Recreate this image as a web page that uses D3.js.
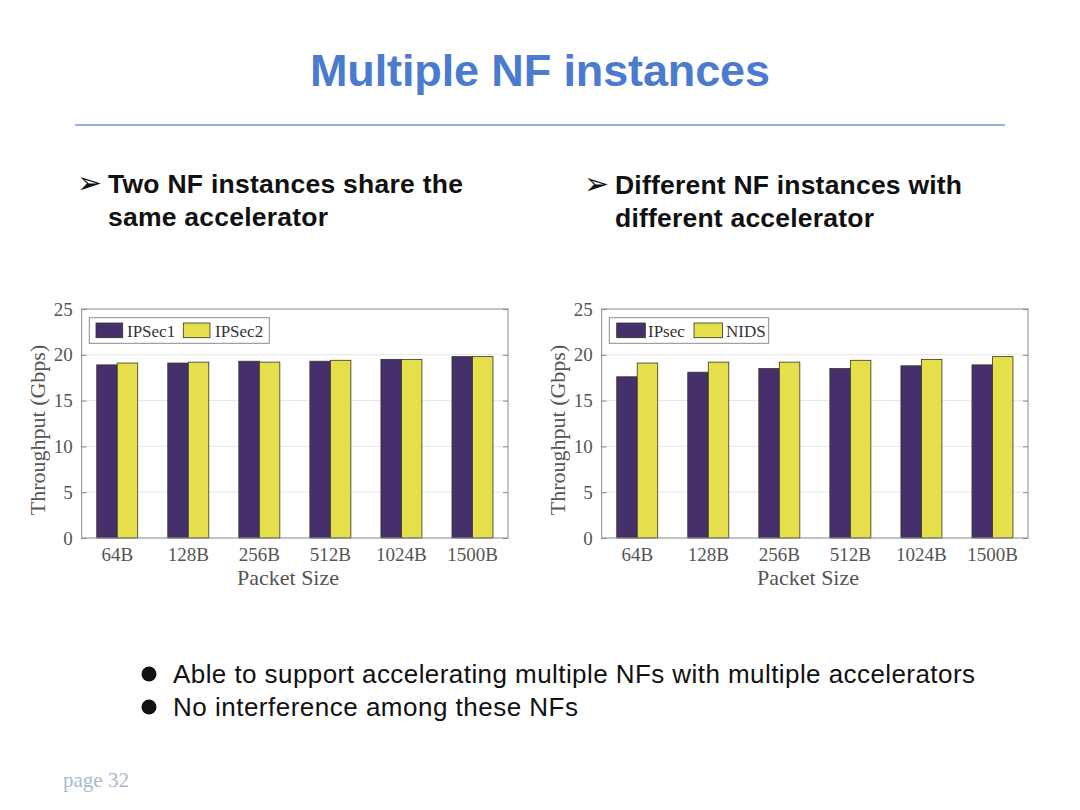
<!DOCTYPE html>
<html><head><meta charset="utf-8">
<script src="https://cdn.jsdelivr.net/npm/d3@7"></script>
<style>body{margin:0;background:#fff}svg{display:block}</style>
</head><body>
<svg id="s" width="1080" height="810"></svg>
<script>
const categories = ["64B","128B","256B","512B","1024B","1500B"];
const leftSeriesNames = ["IPSec1","IPSec2"];
const ipsec1 = [18.9,19.1,19.3,19.3,19.5,19.8];
const ipsec2 = [19.1,19.2,19.2,19.4,19.5,19.8];
const rightSeriesNames = ["IPsec","NIDS"];
const ipsec = [17.6,18.1,18.5,18.5,18.8,18.9];
const nids = [19.1,19.2,19.2,19.4,19.5,19.8];
const yTicks = [0,5,10,15,20,25];
const colors = ["#46306c","#e4df4a"];

const svg = d3.select("#s");
svg.append("text").attr("x",540).attr("y",86).attr("text-anchor","middle")
  .attr("font-family","Liberation Sans, Arial, sans-serif").attr("font-weight","bold")
  .attr("font-size",45).attr("fill","#4a7bcf").attr("textLength",460).text("Multiple NF instances");
svg.append("line").attr("x1",75).attr("x2",1005).attr("y1",125).attr("y2",125)
  .attr("stroke","#8fb1e6").attr("stroke-width",2);

function bulletText(x, y, lines, lens){
  svg.append("text").attr("x",x-1).attr("y",y).attr("font-family","DejaVu Sans, sans-serif")
    .attr("font-size",30).attr("fill","#111").text("\u27A2");
  lines.forEach((l,i)=>svg.append("text").attr("x",x+30).attr("y",y+i*33)
    .attr("font-family","Liberation Sans, Arial, sans-serif").attr("font-weight","bold")
    .attr("font-size",26.5).attr("fill","#111").attr("textLength",lens[i]).text(l));
}
bulletText(78,193,["Two NF instances share the","same accelerator"],[355,220]);
bulletText(585,194,["Different NF instances with","different accelerator"],[347,259]);

[["Able to support accelerating multiple NFs with multiple accelerators",683,802],
 ["No interference among these NFs",716,405]].forEach(([t,y,len])=>{
  svg.append("circle").attr("cx",149).attr("cy",y-9).attr("r",7.5).attr("fill","#111");
  svg.append("text").attr("x",173).attr("y",y).attr("font-family","Liberation Sans, Arial, sans-serif")
    .attr("font-size",26).attr("fill","#111").attr("textLength",len).text(t);
});
svg.append("text").attr("x",63).attr("y",787).attr("font-family","Liberation Serif, serif")
  .attr("font-size",21).attr("fill","#a9b8d2").text("page 32");

function drawChart(ox, names, a, b){
  const L = 81.7+ox, R = 508+ox, T = 309, B = 538;
  const g = svg.append("g");
  const x = d3.scaleBand().domain(categories).range([L,R]).padding(0);
  const y = d3.scaleLinear().domain([0,25]).range([B,T]);
  const bw = 20.5;
  const xs = d3.scaleBand().domain(names).range([-bw, bw]);
  g.selectAll(".grid").data(yTicks.slice(1,-1)).join("line")
    .attr("x1",L).attr("x2",R).attr("y1",d=>y(d)).attr("y2",d=>y(d))
    .attr("stroke","#e6e6e6").attr("stroke-width",1);
  const data = categories.map((c,i)=>[{c,s:names[0],v:a[i]},{c,s:names[1],v:b[i]}]).flat();
  g.selectAll(".bar").data(data).join("rect")
    .attr("x",d=>x(d.c)+x.bandwidth()/2+xs(d.s))
    .attr("width",xs.bandwidth())
    .attr("y",d=>y(d.v)).attr("height",d=>B-y(d.v))
    .attr("fill",d=>d.s===names[0]?colors[0]:colors[1])
    .attr("stroke","#3a3328").attr("stroke-width",0.8);
  g.append("rect").attr("x",L).attr("y",T).attr("width",R-L).attr("height",B-T)
    .attr("fill","none").attr("stroke","#8a8a8a").attr("stroke-width",1);
  const ya = d3.axisLeft(y).tickValues(yTicks).tickSize(-5).tickPadding(9);
  const yg = g.append("g").attr("transform",`translate(${L},0)`).call(ya);
  yg.select(".domain").remove();
  yg.selectAll("line").attr("stroke","#8a8a8a");
  yg.selectAll("text").attr("font-family","Liberation Serif, Times New Roman, serif")
    .attr("font-size",19).attr("fill","#555");
  const yr = d3.axisRight(y).tickValues(yTicks).tickSize(-5).tickFormat("");
  const yrg = g.append("g").attr("transform",`translate(${R},0)`).call(yr);
  yrg.select(".domain").remove();
  yrg.selectAll("line").attr("stroke","#8a8a8a");
  const xa = d3.axisBottom(x).tickSize(0).tickPadding(10);
  const xg = g.append("g").attr("transform",`translate(0,${B})`).call(xa);
  xg.select(".domain").remove();
  xg.selectAll("text").attr("font-family","Liberation Serif, Times New Roman, serif")
    .attr("font-size",19).attr("fill","#555");
  g.append("text").attr("x",288+ox).attr("y",585).attr("text-anchor","middle")
    .attr("font-family","Liberation Serif, Times New Roman, serif").attr("font-size",22)
    .attr("fill","#555").text("Packet Size");
  g.append("text").attr("transform",`translate(${45+ox},430) rotate(-90)`).attr("text-anchor","middle")
    .attr("font-family","Liberation Serif, Times New Roman, serif").attr("font-size",22)
    .attr("fill","#555").text("Throughput (Gbps)");
  const lg = g.append("g");
  lg.append("rect").attr("x",89.3+ox).attr("y",317.7).attr("width",ox?159.4:180).attr("height",25.6)
    .attr("fill","#fff").attr("stroke","#8a8a8a").attr("stroke-width",1);
  const lx = ox ? [[96.7,127],[174,205]] : [[96,126],[183.3,214]];
  names.forEach((n,i)=>{
    lg.append("rect").attr("x",lx[i][0]+ox).attr("y",323).attr("width",ox?28.6:26.7).attr("height",14.7)
      .attr("fill",colors[i]).attr("stroke","#3a3328").attr("stroke-width",0.8);
    lg.append("text").attr("x",lx[i][1]+ox+1).attr("y",337)
      .attr("font-family","Liberation Serif, Times New Roman, serif").attr("font-size",17)
      .attr("fill","#333").text(n);
  });
}
drawChart(0, leftSeriesNames, ipsec1, ipsec2);
drawChart(520, rightSeriesNames, ipsec, nids);
</script>
</body></html>
